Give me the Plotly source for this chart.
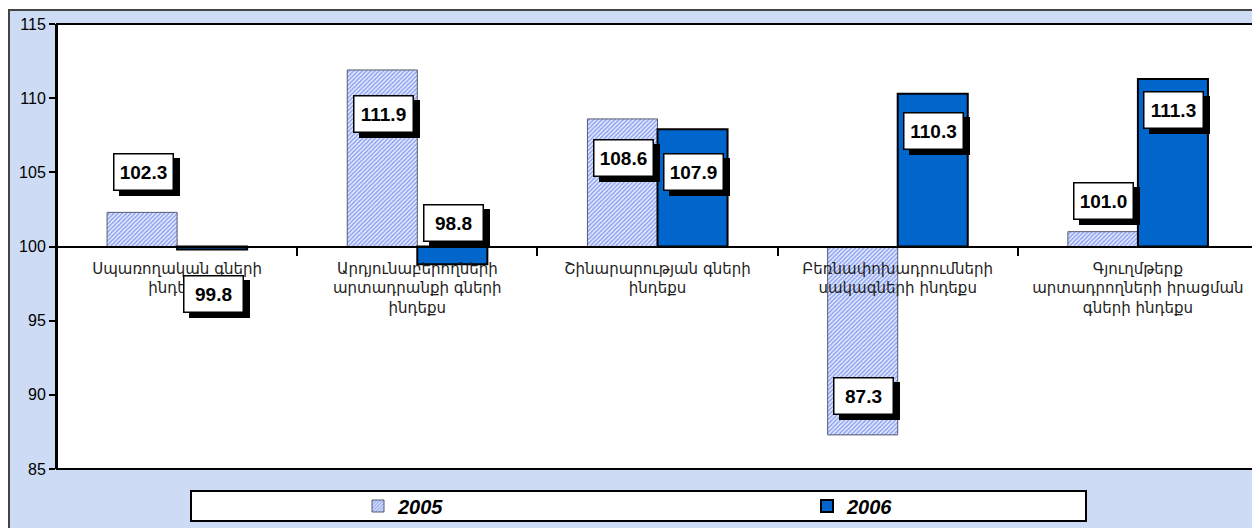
import plotly.graph_objects as go

categories = [
    "Սպառողական գների<br>ինդեքս",
    "Արդյունաբերողների<br>արտադրանքի գների<br>ինդեքս",
    "Շինարարության գների<br>ինդեքս",
    "Բեռնափոխադրումների<br>սակագների ինդեքս",
    "Գյուղմթերք<br>արտադրողների իրացման<br>գների ինդեքս",
]
values_2005 = [102.3, 111.9, 108.6, 87.3, 101.0]
values_2006 = [99.8, 98.8, 107.9, 110.3, 111.3]
base_value = 100
# where the value boxes sit (y, in axis units)
label_y_2005 = [105.0, 108.9, 106.0, 89.9, 103.1]
label_y_2006 = [96.8, 101.6, 105.0, 107.8, 109.2]
series_names = ["2005", "2006"]

# page has an 8px body margin; figure is sized to fill the rest of the window
OFF = 8
W, H = 1260 - OFF, 528 - OFF
ML, MT = 57 - OFF, 24 - OFF
MR = W - (1258 - OFF)
MB = H - (469 - OFF)
pw = W - ML - MR
ph = H - MT - MB

def px_x(page_px):
    return (page_px - OFF - ML) / pw

def px_y(page_py):
    return (H - MB - (page_py - OFF)) / ph

fig = go.Figure()
fig.add_trace(go.Bar(
    x=categories, y=[v - base_value for v in values_2005], base=base_value,
    name=series_names[0],
    marker=dict(color="white",
                pattern=dict(shape="/", fgcolor="#3158e4", bgcolor="#f4f7ff",
                             size=3, solidity=0.6),
                line=dict(color="#555a70", width=1)),
))
fig.add_trace(go.Bar(
    x=categories, y=[v - base_value for v in values_2006], base=base_value,
    name=series_names[1],
    marker=dict(color="#0066cc", line=dict(color="black", width=2)),
))

annotations = []
for vals, ys, shift in ((values_2005, label_y_2005, -34), (values_2006, label_y_2006, 36)):
    for i, (v, yy) in enumerate(zip(vals, ys)):
        common = dict(x=categories[i], y=yy, xref="x", yref="y", showarrow=False,
                      text=f"{v:.1f}", width=50, height=27, borderpad=4,
                      font=dict(family="Arial", size=19, color="black", weight="bold"))
        annotations.append(dict(common, xshift=shift + 6, yshift=-5,
                                bgcolor="black", bordercolor="black", borderwidth=1.5))
        annotations.append(dict(common, xshift=shift,
                                bgcolor="white", bordercolor="black", borderwidth=1.5))

shapes = [
    # outer chart area
    dict(type="rect", xref="paper", yref="paper",
         x0=px_x(OFF + 1), x1=px_x(1259), y0=px_y(540), y1=px_y(10),
         fillcolor="#cddcf4", line=dict(color="#444444", width=2), layer="below"),
    # plot area background
    dict(type="rect", xref="paper", yref="paper", x0=0, x1=1, y0=0, y1=1,
         fillcolor="white", line=dict(width=0), layer="below"),
    # plot area frame
    dict(type="rect", xref="paper", yref="paper", x0=0, x1=1, y0=0, y1=1,
         line=dict(color="black", width=2), fillcolor="rgba(0,0,0,0)", layer="above"),
    # legend box
    dict(type="rect", xref="paper", yref="paper",
         x0=px_x(191), x1=px_x(1086), y0=px_y(521), y1=px_y(491),
         fillcolor="white", line=dict(color="black", width=2), layer="below"),
]

fig.update_layout(
    width=W, height=H,
    margin=dict(l=ML, r=MR, t=MT, b=MB, autoexpand=False),
    paper_bgcolor="white", plot_bgcolor="white",
    barmode="group", bargap=0.4167, bargroupgap=0,
    showlegend=True,
    legend=dict(orientation="h", x=px_x(358), xanchor="left", y=px_y(506), yanchor="middle",
                entrywidth=404, bgcolor="rgba(0,0,0,0)",
                font=dict(family="Arial", size=20, color="black", weight="bold", style="italic")),
    annotations=annotations,
    shapes=shapes,
    xaxis=dict(anchor="free", position=(base_value - 85) / 30, showline=True,
               linecolor="black", linewidth=2, ticks="outside", tickson="boundaries",
               ticklen=8, tickwidth=2, tickcolor="black", showgrid=False,
               ticklabelstandoff=8,
               tickfont=dict(family="DejaVu Sans", size=15, color="#222222")),
    yaxis=dict(range=[85, 115], dtick=5, showline=True, linecolor="black", linewidth=2,
               ticks="outside", ticklen=6, tickwidth=2, tickcolor="black",
               showgrid=False, zeroline=False,
               tickfont=dict(family="Arial", size=16, color="black")),
)

fig.write_html("out.html")
